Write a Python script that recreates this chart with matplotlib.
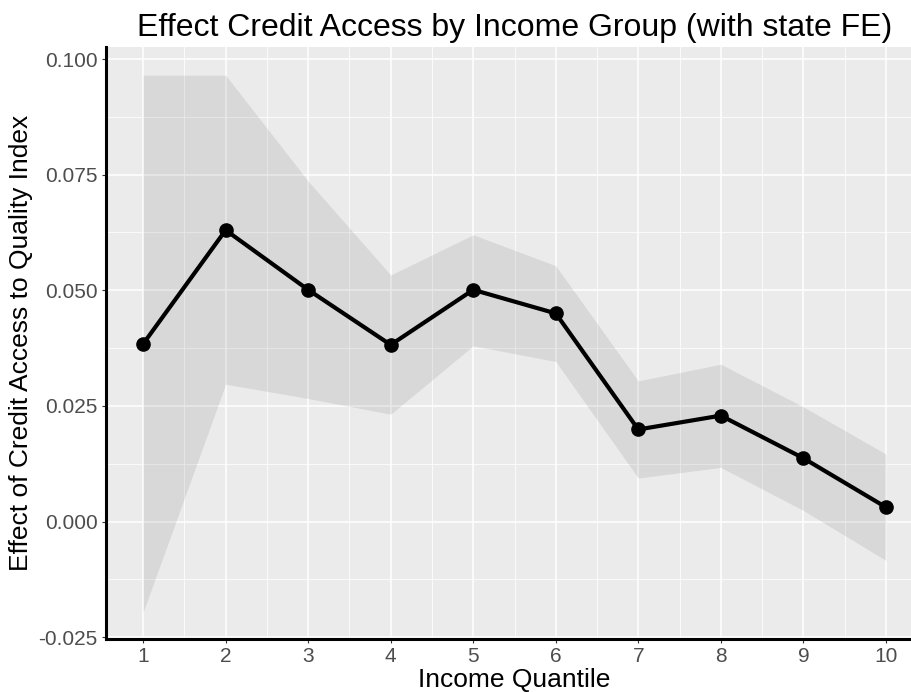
import numpy as np
import matplotlib.pyplot as plt

plt.rcParams['font.family'] = ['Liberation Sans', 'DejaVu Sans']

quantile = np.arange(1, 11)
effect = [0.0384, 0.0630, 0.0501, 0.0382, 0.0501, 0.0450, 0.0199, 0.0229, 0.0137, 0.0031]
ci_low = [-0.0196, 0.0297, 0.0266, 0.0232, 0.0380, 0.0346, 0.0094, 0.0117, 0.0024, -0.0084]
ci_high = [0.0965, 0.0965, 0.0736, 0.0533, 0.0620, 0.0553, 0.0304, 0.0340, 0.0248, 0.0146]
yticks = [-0.025, 0.0, 0.025, 0.05, 0.075, 0.1]
ytick_labels = ['-0.025', '0.000', '0.025', '0.050', '0.075', '0.100']

fig = plt.figure(figsize=(9.12, 6.92), dpi=100)
# panel runs past the right edge of the figure on purpose
ax = fig.add_axes([106 / 912, 53 / 692, 817 / 912, 592 / 692])
ax.set_facecolor('#EBEBEB')

ax.set_xlim(0.55, 10.45)
ax.set_ylim(-0.0254, 0.1026)

ax.set_xticks(quantile)
ax.set_xticks(np.arange(1.5, 10.5, 1), minor=True)
ax.set_yticks(yticks)
ax.set_yticklabels(ytick_labels)
ax.set_yticks(np.arange(-0.0125, 0.1, 0.025), minor=True)

ax.grid(which='major', color='white', lw=1.1, zorder=0)
ax.grid(which='minor', color='white', lw=0.55, zorder=0)
ax.set_axisbelow(True)

ax.fill_between(quantile, ci_low, ci_high, color='#333333', alpha=0.1, lw=0, zorder=1)
ax.plot(quantile, effect, color='black', lw=3, zorder=2)
ax.plot(quantile, effect, 'o', color='black', ms=9.5, zorder=3)

for s in ['top', 'right']:
    ax.spines[s].set_visible(False)
for s in ['left', 'bottom']:
    ax.spines[s].set_color('black')
    ax.spines[s].set_linewidth(2.2)

ax.tick_params(which='major', length=3, width=0.8, color='#333333',
               labelsize=15, labelcolor='#4D4D4D', pad=3)
ax.tick_params(which='minor', length=0)

ax.set_xlabel('Income Quantile', fontsize=19, color='black', labelpad=1)
ax.set_ylabel('Effect of Credit Access to Quality Index', fontsize=19,
              color='black', labelpad=4)
ax.set_title('Effect Credit Access by Income Group (with state FE)',
             fontsize=23, color='black', pad=8)

fig.savefig('out.png', dpi=100)
